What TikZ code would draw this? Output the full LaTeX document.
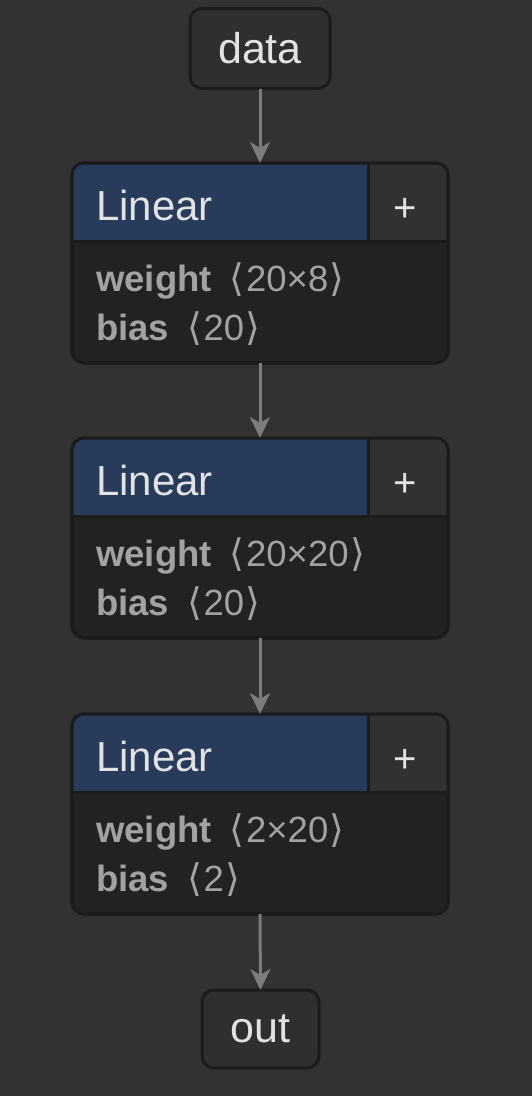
\documentclass[tikz,border=0pt]{standalone}
\usepackage{fontspec}
\setmainfont{Liberation Sans}
\newfontfamily\symfont{DejaVu Sans}
\usetikzlibrary{arrows.meta,calc}
\definecolor{bgc}{HTML}{323232}
\definecolor{bordc}{HTML}{1B1B1B}
\definecolor{termfill}{HTML}{2F2F2F}
\definecolor{hdrc}{HTML}{283B5B}
\definecolor{bodyc}{HTML}{222222}
\definecolor{plusc}{HTML}{313131}
\definecolor{titlec}{HTML}{E2E2E2}
\definecolor{paramc}{HTML}{A2A2A2}
\definecolor{arrowc}{HTML}{7C7C7C}
\tikzset{
  term/.style={draw=bordc, fill=termfill, line width=3pt, rounded corners=12pt, outer sep=0pt, inner sep=0pt, text=titlec, font=\fontsize{43}{46}\selectfont},
  lbox/.style={draw=bordc, fill=bodyc, line width=3pt, rounded corners=12pt, outer sep=0pt, inner sep=0pt, minimum width=376pt, minimum height=200pt, anchor=north west},
  title/.style={anchor=base west, inner sep=0pt, text=titlec, font=\fontsize{42}{46}\selectfont},
  plus/.style={anchor=base, inner sep=0pt, text=titlec, font=\fontsize{40}{44}\selectfont},
  param/.style={anchor=base west, inner sep=0pt, text=paramc, font=\fontsize{36.5}{40}\selectfont},
  flow/.style={draw=arrowc, line width=3pt, -{Stealth[length=21pt,width=20pt,inset=6pt]}},
}
\newcommand{\br}[1]{\hspace{18pt}{\symfont\fontsize{38}{40}\selectfont⟨}\hspace{1.5pt}#1\hspace{1.5pt}{\symfont\fontsize{38}{40}\selectfont⟩}}
\newcommand{\linbox}[4]{%
  \node[lbox] (#1) at (72,#2) {};
  \begin{scope}
    \clip[rounded corners=12pt] (#1.north west) rectangle (#1.south east);
    \fill[hdrc] (#1.north west) rectangle ($(#1.north west)+(296,78)$);
    \fill[plusc] ($(#1.north west)+(296,0)$) rectangle ($(#1.north east)+(0,78)$);
  \end{scope}
  \draw[bordc, line width=3pt] ($(#1.north west)+(0,78)$) -- ($(#1.north east)+(0,78)$);
  \draw[bordc, line width=3pt] ($(#1.north west)+(296,0)$) -- ($(#1.north west)+(296,78)$);
  \draw[bordc, line width=3pt, rounded corners=12pt] (#1.north west) rectangle (#1.south east);
  \node[title] (#1t) at ($(#1.north west)+(24,57)$) {Linear};
  \node[plus] (#1p) at ($(#1.north west)+(333,58)$) {+};
  \node[param] (#1w) at ($(#1.north west)+(24,128)$) {\textbf{weight}\br{#3}};
  \node[param] (#1b) at ($(#1.north west)+(24,177)$) {\textbf{bias}\br{#4}};
}
\begin{document}
\begin{tikzpicture}[x=1pt,y=-1pt]
\fill[bgc] (0,0) rectangle (532,1096);
\useasboundingbox (0,0) rectangle (532,1096);
\node[term, minimum width=140pt, minimum height=80pt] (data) at (260,48.5) {data};
\linbox{L1}{163}{20×8}{20}
\linbox{L2}{438}{20×20}{20}
\linbox{L3}{714}{2×20}{2}
\node[term, minimum width=117pt, minimum height=78pt] (out) at (260.5,1029) {out};
\draw[flow] (data.south) -- (L1.north);
\draw[flow] (L1.south) -- (L2.north);
\draw[flow] (L2.south) -- (L3.north);
\draw[flow] (L3.south) -- (out.north);
\end{tikzpicture}
\end{document}
